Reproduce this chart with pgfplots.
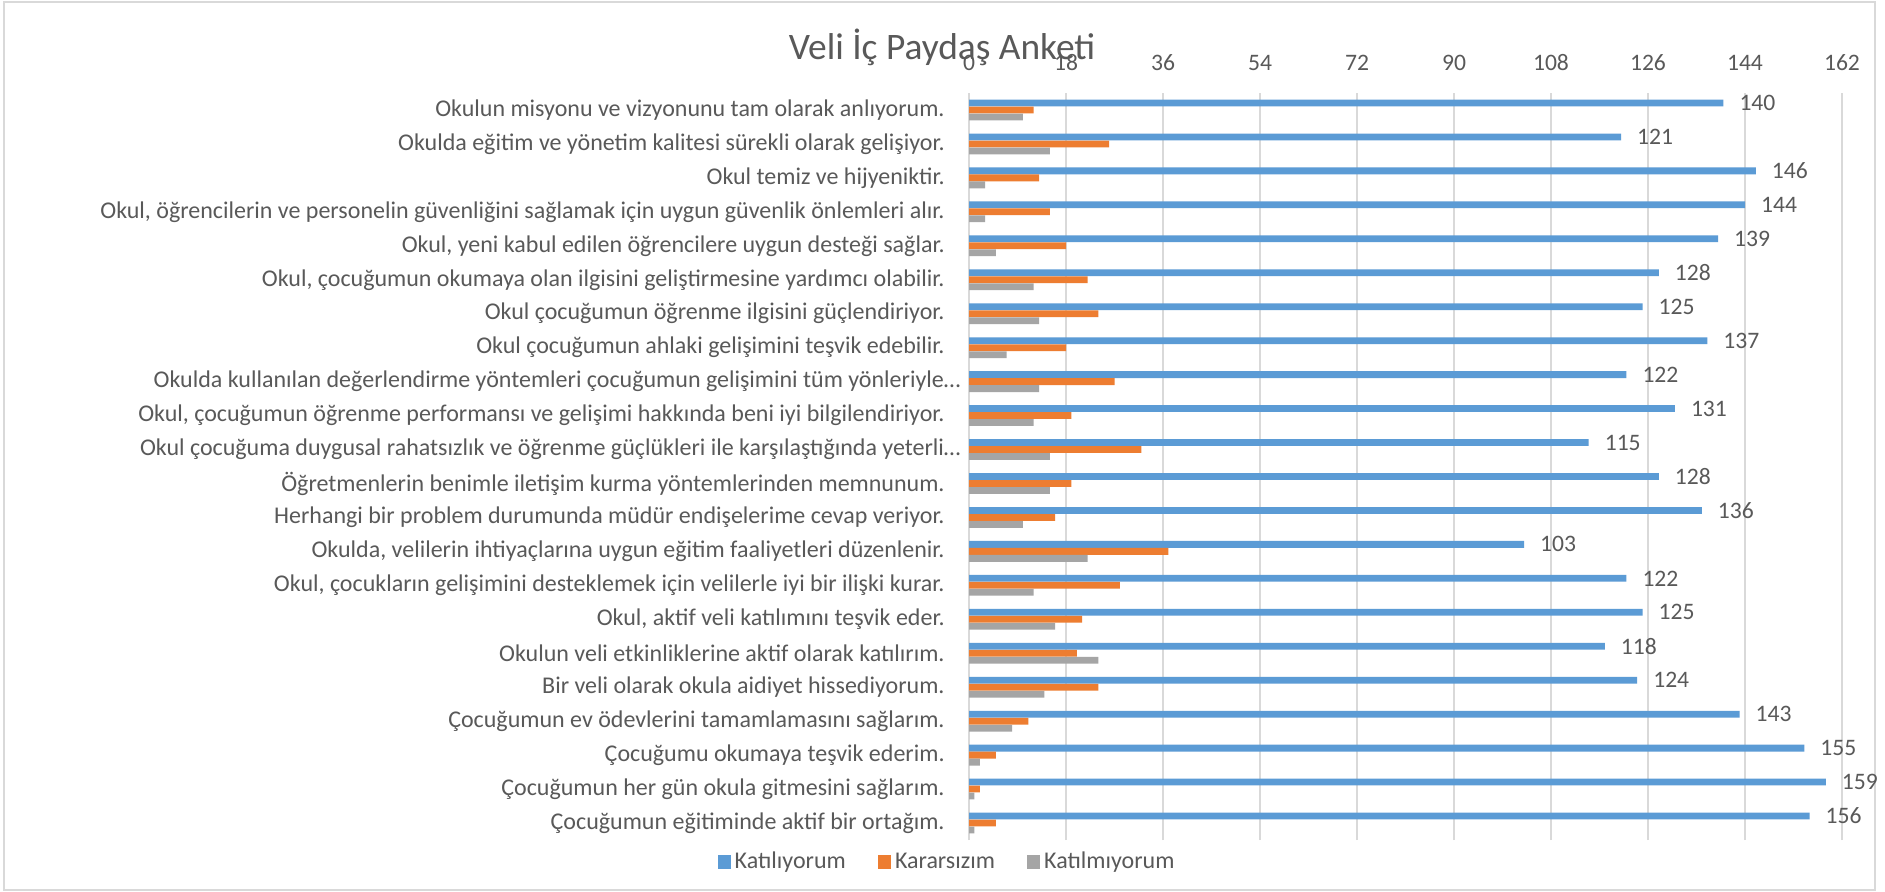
\documentclass[border=0pt]{standalone}
\usepackage{fontspec}
\setmainfont{Carlito}
\usepackage{pgfplots}
\usepackage{pgfplotstable}
\pgfplotsset{compat=1.18}
\definecolor{cblue}{HTML}{5B9BD5}
\definecolor{corange}{HTML}{ED7D31}
\definecolor{cgray}{HTML}{A5A5A5}
\definecolor{txt}{HTML}{595959}
\definecolor{gridc}{HTML}{D9D9D9}

% rows bottom to top (y = 0 is the last category of the chart)
\pgfplotstableread[col sep=semicolon]{
y;katiliyorum;kararsizim;katilmiyorum;label
0;156;5;1;Çocuğumun eğitiminde aktif bir ortağım.
1;159;2;1;Çocuğumun her gün okula gitmesini sağlarım.
2;155;5;2;Çocuğumu okumaya teşvik ederim.
3;143;11;8;Çocuğumun ev ödevlerini tamamlamasını sağlarım.
4;124;24;14;Bir veli olarak okula aidiyet hissediyorum.
5;118;20;24;Okulun veli etkinliklerine aktif olarak katılırım.
6;125;21;16;Okul, aktif veli katılımını teşvik eder.
7;122;28;12;Okul, çocukların gelişimini desteklemek için velilerle iyi bir ilişki kurar.
8;103;37;22;Okulda, velilerin ihtiyaçlarına uygun eğitim faaliyetleri düzenlenir.
9;136;16;10;Herhangi bir problem durumunda müdür endişelerime cevap veriyor.
10;128;19;15;Öğretmenlerin benimle iletişim kurma yöntemlerinden memnunum.
11;115;32;15;Okul çocuğuma duygusal rahatsızlık ve öğrenme güçlükleri ile karşılaştığında yeterli…\kern-8pt
12;131;19;12;Okul, çocuğumun öğrenme performansı ve gelişimi hakkında beni iyi bilgilendiriyor.
13;122;27;13;Okulda kullanılan değerlendirme yöntemleri çocuğumun gelişimini tüm yönleriyle…\kern-8pt
14;137;18;7;Okul çocuğumun ahlaki gelişimini teşvik edebilir.
15;125;24;13;Okul çocuğumun öğrenme ilgisini güçlendiriyor.
16;128;22;12;Okul, çocuğumun okumaya olan ilgisini geliştirmesine yardımcı olabilir.
17;139;18;5;Okul, yeni kabul edilen öğrencilere uygun desteği sağlar.
18;144;15;3;Okul, öğrencilerin ve personelin güvenliğini sağlamak için uygun güvenlik önlemleri alır.
19;146;13;3;Okul temiz ve hijyeniktir.
20;121;26;15;Okulda eğitim ve yönetim kalitesi sürekli olarak gelişiyor.
21;140;12;10;Okulun misyonu ve vizyonunu tam olarak anlıyorum.
}\data

\begin{document}
\begin{tikzpicture}
\path[use as bounding box, fill=white] (0pt,0pt) rectangle (942.5pt,445.5pt);
\draw[gridc, line width=0.75pt] (2pt,0.6pt) rectangle (937.5pt,444.5pt);
\begin{axis}[
  at={(484.5pt,25.5pt)}, anchor=south west,
  scale only axis,
  width=436.5pt, height=373.5pt,
  xbar, bar width=3.4pt,
  xmin=0, xmax=162,
  ymin=-0.5, ymax=21.5,
  xtick={0,18,...,162},
  ytick={0,...,21},
  yticklabels from table={\data}{label},
  xticklabel pos=upper,
  xmajorgrids,
  grid style={gridc, line width=0.85pt},
  axis line style={draw=none},
  major tick length=0pt,
  tick style={draw=none},
  /pgf/number format/assume math mode=true,
  tick label style={txt, font=\fontsize{11.8}{14}\selectfont},
  yticklabel style={anchor=east, inner sep=0pt, xshift=-12pt,
    font=\fontsize{12}{14}\selectfont},
  xticklabel style={anchor=south, inner sep=0pt, yshift=11pt},
  legend columns=3,
  legend style={at={(474pt-484.5pt,14.5pt-25.5pt)}, anchor=center,
    draw=none, fill=none, text=txt, font=\fontsize{12}{14}\selectfont,
    /tikz/every even column/.append style={column sep=14pt},
    nodes={inner sep=2pt}},
  legend cell align=left,
  legend image code/.code={\fill[#1, draw=none] (0pt,-3.3pt) rectangle (6.6pt,3.3pt);},
]
\addplot[fill=cblue, draw=none, bar shift=3.5pt,
  point meta=x, nodes near coords,
  every node near coord/.append style={txt, anchor=west, xshift=4.5pt,
    font=\fontsize{11.8}{14}\selectfont,
    /pgf/number format/assume math mode=true}]
  table[x=katiliyorum, y=y] {\data};
\addplot[fill=corange, draw=none, bar shift=0pt]
  table[x=kararsizim, y=y] {\data};
\addplot[fill=cgray, draw=none, bar shift=-3.5pt]
  table[x=katilmiyorum, y=y] {\data};
\legend{Katılıyorum, Kararsızım, Katılmıyorum}
\end{axis}
\node[anchor=base, text=txt, font=\fontsize{18.7}{22}\selectfont]
  at (471pt,415.5pt) {Veli İç Paydaş Anketi};
\end{tikzpicture}
\end{document}
